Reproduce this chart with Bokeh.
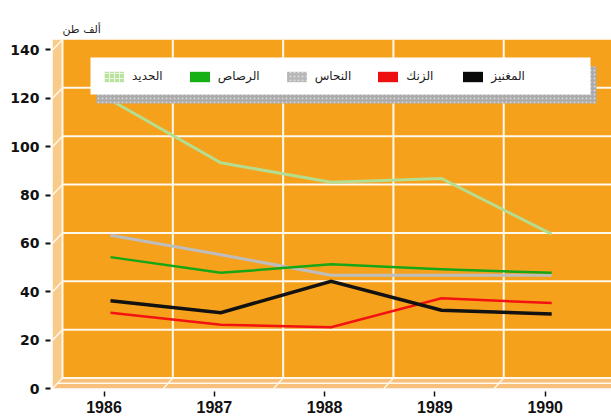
from bokeh.plotting import figure
from bokeh.models import Range1d, LinearAxis, FixedTicker, Legend, LegendItem
from bokeh.embed import file_html
from bokeh.resources import INLINE

# ---------------- data (thousand tons) ----------------
years = [1986, 1987, 1988, 1989, 1990]
iron = [115, 89, 81, 82.5, 59.5]        # الحديد
lead = [50, 43.5, 47, 45, 43.5]         # الرصاص
copper = [59, 51, 42.5, 42.5, 42.5]     # النحاس
zinc = [27, 22, 21, 33, 31]             # الزنك
manganese = [32, 27, 40, 28, 26.5]      # المغنيز
y_ticks = [0, 20, 40, 60, 80, 100, 120, 140]
names = ["الحديد", "الرصاص", "النحاس", "الزنك", "المغنيز"]
unit_label = "ألف طن"

# ---------------- layout helpers (pixels -> data) ----------------
W, H = 611, 418
FRAME_L, FRAME_T, FRAME_B = 52, 39, 388
PX_X = 110.3            # px per year
PX_Y = 2.42             # px per thousand tons
X0_PX = 110             # pixel of the first year on the back wall
DEPTH_X = 9.5 / PX_X    # 3D depth shift (back wall -> front)
DEPTH_Y = 10.5 / PX_Y
AXIS_SHIFT_X = 6.5 / PX_X

def px_x(px):
    return years[0] + (px - X0_PX) / PX_X

def px_y(py):
    return y_ticks[-1] - (py - FRAME_T) / PX_Y

x_start = px_x(FRAME_L)
x_end = px_x(W)
y_top = y_ticks[-1]
y_bottom = -DEPTH_Y
back_x = px_x(62)

ORANGE = "#F6A11C"
WALL = "#F9CB8A"
FLOOR = "#F8C07A"
GRID = "#FFF8EC"

p = figure(width=W, height=H,
           x_range=Range1d(x_start, x_end), y_range=Range1d(y_bottom, y_top),
           x_axis_location=None, y_axis_location=None,
           toolbar_location=None, output_backend="svg",
           min_border_left=FRAME_L, min_border_right=0,
           min_border_top=FRAME_T, min_border_bottom=H - FRAME_B)
p.xgrid.visible = False
p.ygrid.visible = False
p.outline_line_color = None
p.background_fill_color = "white"
p.border_fill_color = "white"

# unit label above the axis
p.title.text = unit_label
p.title.align = "left"
p.title.offset = 10
p.title.standoff = 7
p.title.text_font = "DejaVu Sans"
p.title.text_font_size = "11px"
p.title.text_font_style = "normal"
p.title.text_color = "#222222"

# back wall
p.quad(left=[back_x], right=[x_end], bottom=[0], top=[y_top], fill_color=ORANGE, line_color=None)
# left wall
p.patch(x=[x_start, back_x, back_x, x_start], y=[y_bottom, 0, y_top, y_top],
        fill_color=WALL, line_color=None)
# floor
p.patch(x=[back_x, x_end, x_end, x_start], y=[0, 0, y_bottom, y_bottom],
        fill_color=FLOOR, line_color=None)
p.segment(x0=[x_start + DEPTH_X / 2], y0=[y_bottom / 2], x1=[x_end], y1=[y_bottom / 2],
          line_color=GRID, line_width=1.5)

# grid on the back wall
hy = y_ticks[:-1]
p.segment(x0=[back_x] * len(hy), y0=hy, x1=[x_end] * len(hy), y1=hy,
          line_color=GRID, line_width=2)
p.segment(x0=[x_start] * len(y_ticks), y0=[v - DEPTH_Y for v in y_ticks],
          x1=[back_x] * len(y_ticks), y1=y_ticks, line_color=GRID, line_width=1.5)
gx = [y + 0.565 for y in years[:-1]]
p.segment(x0=gx, y0=[0] * len(gx), x1=gx, y1=[y_top] * len(gx),
          line_color=GRID, line_width=2)
p.segment(x0=gx, y0=[0] * len(gx), x1=[g - DEPTH_X for g in gx], y1=[y_bottom] * len(gx),
          line_color=GRID, line_width=1.5)
p.segment(x0=[back_x], y0=[0], x1=[back_x], y1=[y_top], line_color=GRID, line_width=2)

# series lines
series = [
    (iron, "#B5DD8F", 3),
    (copper, "#BDBDBD", 3),
    (lead, "#16A616", 2.5),
    (zinc, "#F31212", 2.5),
    (manganese, "#121212", 3.5),
]
for vals, col, w in series:
    p.line(years, vals, line_color=col, line_width=w, line_join="miter")

# legend box with 3D shadow
bx0, bx1 = px_x(90), px_x(590)
by1, by0 = px_y(57), px_y(94)
p.quad(left=[bx0 + 6 / PX_X], right=[bx1 + 6 / PX_X], bottom=[by0 - 9 / PX_Y], top=[by1 - 9 / PX_Y],
       fill_color="#ABABAB", line_color=None, hatch_pattern="dot", hatch_color="#D8D8D8",
       hatch_scale=4)
p.quad(left=[bx0], right=[bx1], bottom=[by0], top=[by1], fill_color="white", line_color=None)

# legend swatches (filled rectangles, not visible in the plot itself)
swatches = [
    dict(fill_color="#BCE2A2", hatch_pattern="+", hatch_color="#E8F6DC", hatch_scale=5),
    dict(fill_color="#14B014"),
    dict(fill_color="#B7B7B7", hatch_pattern="dot", hatch_color="#DDDDDD", hatch_scale=4),
    dict(fill_color="#EE1010"),
    dict(fill_color="#0A0A0A"),
]
nan = float("nan")
items = []
for name, st in zip(names, swatches):
    r = p.quad(left=[nan], right=[nan], top=[nan], bottom=[nan], line_color=None, **st)
    items.append(LegendItem(label=name, renderers=[r], index=0))

legend = Legend(items=items, orientation="horizontal", location=(101 - FRAME_L, FRAME_B - 83),
                glyph_width=25, glyph_height=13, label_height=13, label_width=30,
                label_standoff=6, spacing=24, padding=0, margin=0,
                background_fill_alpha=0, border_line_color=None,
                label_text_font="DejaVu Sans", label_text_font_size="12px",
                label_text_color="#222222")
p.add_layout(legend)

# axes (front edge, shifted by the 3D depth)
p.extra_y_ranges = {"front": Range1d(y_bottom + DEPTH_Y, y_top + DEPTH_Y)}
p.extra_x_ranges = {"front": Range1d(x_start + AXIS_SHIFT_X, x_end + AXIS_SHIFT_X)}

yax = LinearAxis(y_range_name="front", ticker=FixedTicker(ticks=y_ticks),
                 axis_line_color=None, major_tick_in=-2, major_tick_out=7,
                 major_tick_line_width=2, major_tick_line_color="#111111",
                 minor_tick_line_color=None, major_label_standoff=6,
                 major_label_text_font="DejaVu Sans", major_label_text_font_style="bold",
                 major_label_text_font_size="14px", major_label_text_color="#111111")
p.add_layout(yax, "left")

xax = LinearAxis(x_range_name="front", ticker=FixedTicker(ticks=years),
                 axis_line_color=None, major_tick_in=-3, major_tick_out=8,
                 major_tick_line_width=1.5, major_tick_line_color="#111111",
                 minor_tick_line_color=None, major_label_standoff=4,
                 major_label_text_font="Liberation Sans", major_label_text_font_style="bold",
                 major_label_text_font_size="16px", major_label_text_color="#111111")
p.add_layout(xax, "below")

open("out.html", "w").write(file_html(p, INLINE))
